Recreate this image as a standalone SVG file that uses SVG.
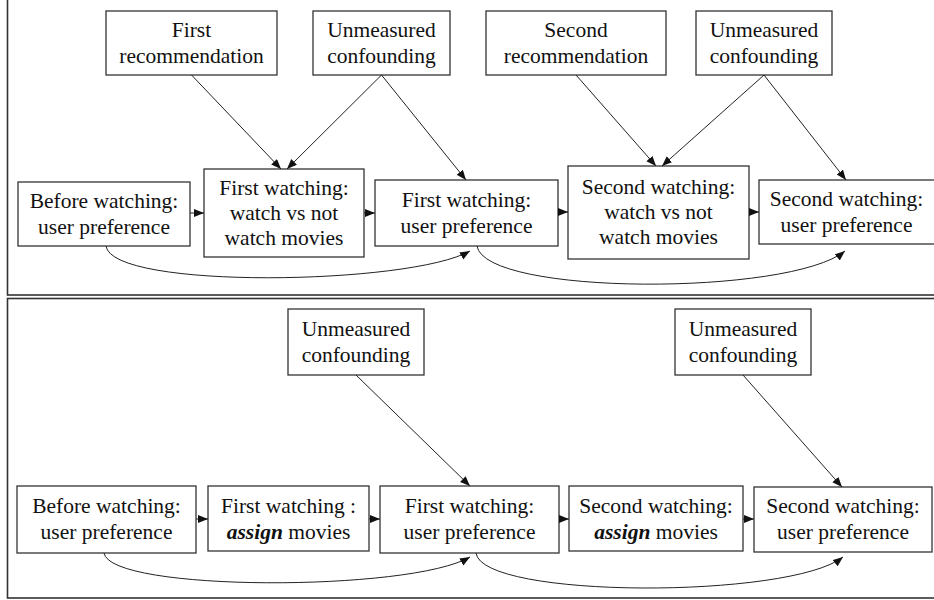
<svg xmlns="http://www.w3.org/2000/svg" width="934" height="600" viewBox="0 0 934 600">
<defs>
<marker id="ah" markerUnits="userSpaceOnUse" markerWidth="11" markerHeight="9" refX="10" refY="4" orient="auto">
<path d="M0,0 L10,4 L0,8 z" fill="#111"/>
</marker>
<style>
.panel{fill:#fff;stroke:#333;stroke-width:1.6}
.box{fill:#fff;stroke:#333;stroke-width:1.3}
.t{font-size:21.5px;fill:#111;text-anchor:middle}
.e{fill:none;stroke:#222;stroke-width:1;marker-end:url(#ah)}
.b{font-weight:bold;font-style:italic}
</style>
</defs>
<rect class="panel" x="7.5" y="-5" width="940" height="300"/>
<rect class="panel" x="7.5" y="298.5" width="940" height="299.5"/>
<g font-family="Liberation Serif, DejaVu Serif, serif">
<g id="top-rec1"><rect class="box" x="106" y="11" width="171" height="64"/><text class="t"><tspan x="191.5" y="37">First</tspan><tspan x="191.5" y="63">recommendation</tspan></text></g>
<g id="top-unm1"><rect class="box" x="313" y="11" width="137" height="64"/><text class="t"><tspan x="381.5" y="37">Unmeasured</tspan><tspan x="381.5" y="63">confounding</tspan></text></g>
<g id="top-before"><rect class="box" x="18" y="182" width="172" height="64"/><text class="t"><tspan x="104" y="208">Before watching:</tspan><tspan x="104" y="234">user preference</tspan></text></g>
<g id="top-fw1"><rect class="box" x="204" y="169" width="160" height="88"/><text class="t"><tspan x="284" y="195">First watching:</tspan><tspan x="284" y="220">watch vs not</tspan><tspan x="284" y="245">watch movies</tspan></text></g>
<g id="top-fup1"><rect class="box" x="375" y="180" width="183" height="66"/><text class="t"><tspan x="466.5" y="207">First watching:</tspan><tspan x="466.5" y="233">user preference</tspan></text></g>
<g id="top-rec2"><rect class="box" x="486" y="11" width="180" height="64"/><text class="t"><tspan x="576" y="37">Second</tspan><tspan x="576" y="63">recommendation</tspan></text></g>
<g id="top-unm2"><rect class="box" x="696" y="11" width="136" height="64"/><text class="t"><tspan x="764" y="37">Unmeasured</tspan><tspan x="764" y="63">confounding</tspan></text></g>
<g id="top-sw2"><rect class="box" x="568" y="166" width="181" height="93"/><text class="t"><tspan x="658.5" y="194">Second watching:</tspan><tspan x="658.5" y="219">watch vs not</tspan><tspan x="658.5" y="244">watch movies</tspan></text></g>
<g id="top-sup2"><rect class="box" x="759" y="180" width="176" height="64"/><text class="t"><tspan x="846.5" y="206">Second watching:</tspan><tspan x="846.5" y="232">user preference</tspan></text></g>

<g id="bot-unm1"><rect class="box" x="288" y="309" width="136" height="66"/><text class="t"><tspan x="356" y="336">Unmeasured</tspan><tspan x="356" y="362">confounding</tspan></text></g>
<g id="bot-before"><rect class="box" x="17" y="486" width="179" height="67"/><text class="t"><tspan x="106.5" y="513">Before watching:</tspan><tspan x="106.5" y="539">user preference</tspan></text></g>
<g id="bot-fw1"><rect class="box" x="208" y="486" width="161" height="65"/><text class="t"><tspan x="288.5" y="513">First watching :</tspan><tspan x="288.5" y="539"><tspan class="b">assign</tspan> movies</tspan></text></g>
<g id="bot-fup1"><rect class="box" x="380" y="486" width="179" height="67"/><text class="t"><tspan x="469.5" y="513">First watching:</tspan><tspan x="469.5" y="539">user preference</tspan></text></g>
<g id="bot-sw2"><rect class="box" x="569" y="486" width="174" height="65"/><text class="t"><tspan x="656" y="513">Second watching:</tspan><tspan x="656" y="539"><tspan class="b">assign</tspan> movies</tspan></text></g>
<g id="bot-sup2"><rect class="box" x="754" y="487" width="178" height="65"/><text class="t"><tspan x="843" y="513">Second watching:</tspan><tspan x="843" y="539">user preference</tspan></text></g>
<g id="bot-unm2"><rect class="box" x="675" y="309" width="136" height="66"/><text class="t"><tspan x="743" y="336">Unmeasured</tspan><tspan x="743" y="362">confounding</tspan></text></g>
</g>
<g id="connectors">
<path class="e" d="M191.5,75 L281,169"/>
<path class="e" d="M381.5,75 L287,169"/>
<path class="e" d="M381.5,75 L466,180"/>
<path class="e" d="M190,213 L204,213"/>
<path class="e" d="M364,213 L375,213"/>
<path class="e" d="M106,246 C112,290 410,285 470,251"/>
<path class="e" d="M576,75 L656,166"/>
<path class="e" d="M764,75 L662,166"/>
<path class="e" d="M764,75 L846,180"/>
<path class="e" d="M558,212 L568,212"/>
<path class="e" d="M749,212 L759,212"/>
<path class="e" d="M477,246 C485,296 790,296 845,251"/>

<path class="e" d="M356,375 L470,486"/>
<path class="e" d="M743,375 L842,487"/>
<path class="e" d="M196,519 L208,519"/>
<path class="e" d="M369,519 L380,519"/>
<path class="e" d="M559,519 L569,519"/>
<path class="e" d="M743,519 L754,519"/>
<path class="e" d="M104,553 C110,592 410,592 470,557"/>
<path class="e" d="M476,553 C482,599 790,599 843,557"/>
</g>
</svg>
